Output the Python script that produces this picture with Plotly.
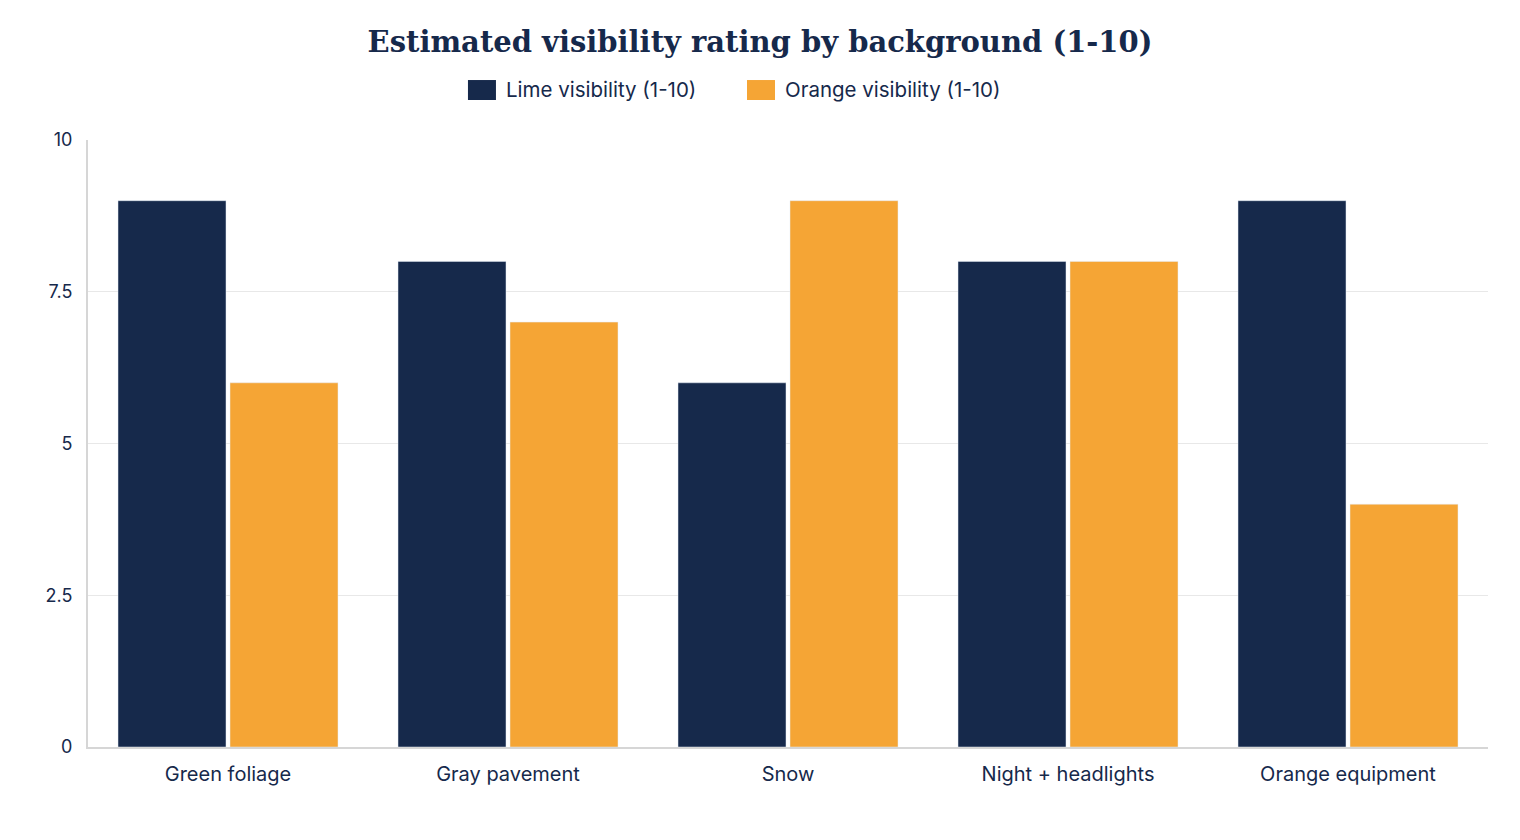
import plotly.graph_objects as go

categories = ["Green foliage", "Gray pavement", "Snow", "Night + headlights", "Orange equipment"]
lime_values = [9, 8, 6, 8, 9]
orange_values = [6, 7, 9, 8, 4]
series_names = ["Lime visibility (1-10)", "Orange visibility (1-10)"]
tick_vals = [0, 2.5, 5, 7.5, 10]
tick_text = ["0", "2.5", "5", "7.5", "10"]

NAVY = "#16294b"
ORANGE = "#f5a535"
TEXT = "#16294b"
colors = [NAVY, ORANGE]

fig = go.Figure()
fig.add_trace(go.Bar(x=categories, y=lime_values, name=series_names[0], marker_color=NAVY, showlegend=False))
fig.add_trace(go.Bar(x=categories, y=orange_values, name=series_names[1], marker_color=ORANGE, showlegend=False))

# custom legend with wide rectangular swatches (paper coordinates)
legend_x = [0.2714, 0.4707]
sw_w = 0.0200
for name, col, lx in zip(series_names, colors, legend_x):
    fig.add_shape(type="rect", xref="paper", yref="paper",
                  x0=lx, x1=lx + sw_w, y0=1.0659, y1=1.0988,
                  fillcolor=col, line=dict(width=0))
    fig.add_annotation(xref="paper", yref="paper", x=lx + sw_w + 0.0057, y=1.0824,
                       xanchor="left", yanchor="middle", showarrow=False,
                       text=name, font=dict(family="Inter", size=20.5, color=TEXT))

fig.update_layout(
    width=1520, height=840,
    margin=dict(l=88, r=32, t=140, b=93),
    paper_bgcolor="white", plot_bgcolor="white",
    barmode="group", bargap=0.2, bargroupgap=0.0357,
    showlegend=False,
    title=dict(text="<b>Estimated visibility rating by background (1-10)</b>",
               x=0.5, xanchor="center", y=0.95, yanchor="middle",
               font=dict(family="DejaVu Serif", size=29, color=TEXT)),
    font=dict(family="Inter", color=TEXT),
)
fig.update_yaxes(range=[0, 10], tickvals=tick_vals, ticktext=tick_text,
                 showgrid=True, gridcolor="#e8e8e8", gridwidth=1,
                 showline=True, linecolor="#d6d6d6", linewidth=2,
                 zeroline=False, ticks="", ticklabelstandoff=10,
                 tickfont=dict(family="Inter", size=18, color=TEXT))
fig.update_xaxes(showline=True, linecolor="#d6d6d6", linewidth=2,
                 ticks="", ticklabelstandoff=8,
                 tickfont=dict(family="Inter", size=20, color=TEXT))

fig.write_html("out.html")
